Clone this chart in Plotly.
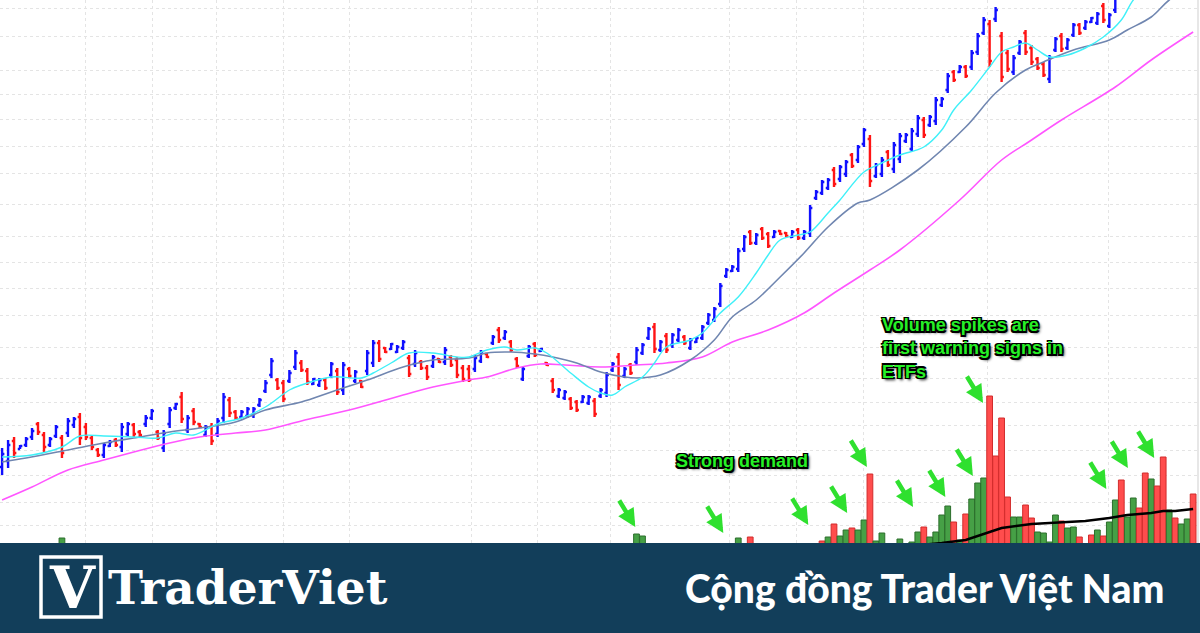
"""
ETF daily bar chart with moving averages and volume spikes (TraderViet banner)
"""

import plotly.graph_objects as go

# ---- price bars, one per session ----
bar_high = [
    18.5, 19.3, 19.6, 18.8, 19.6, 20.5, 21.1, 20.1, 19.6, 20.8,
    19.8, 21.5, 21.6, 22.0, 21.0, 19.8, 18.5, 19.0, 19.3, 19.5,
    21.0, 21.1, 21.0, 20.3, 21.8, 22.4, 20.3, 20.3, 22.6, 23.0,
    24.1, 21.8, 22.5, 21.0, 20.8, 21.0, 21.5, 24.0, 23.6, 22.3,
    22.3, 22.6, 22.6, 23.5, 25.3, 27.5, 25.5, 25.3, 26.3, 28.3,
    27.3, 26.5, 25.5, 25.5, 25.5, 27.1, 26.5, 27.1, 26.6, 26.3,
    25.3, 28.3, 29.3, 29.3, 28.6, 29.0, 28.8, 29.3, 27.8, 28.3,
    27.3, 26.8, 27.8, 27.5, 28.6, 27.8, 27.6, 26.8, 26.8, 27.8,
    28.3, 28.0, 29.8, 30.6, 30.3, 29.3, 27.6, 26.6, 28.8, 29.1,
    28.5, 27.1, 25.5, 24.5, 24.3, 23.6, 23.3, 23.8, 23.8, 23.5,
    24.5, 26.1, 27.1, 28.0, 26.6, 27.0, 28.6, 29.0, 30.6, 31.0,
    29.3, 30.0, 30.0, 30.5, 29.8, 29.5, 29.6, 30.8, 32.0, 32.6,
    35.0, 36.5, 36.8, 38.5, 39.8, 40.3, 40.0, 40.6, 40.1, 40.3,
    40.3, 40.1, 40.3, 40.5, 40.3, 42.8, 44.3, 45.3, 45.5, 46.6,
    46.8, 47.3, 48.0, 48.8, 50.5, 49.8, 47.0, 47.6, 48.3, 49.1,
    50.0, 50.0, 50.5, 51.8, 51.6, 51.8, 53.6, 53.6, 56.0, 56.3,
    56.8, 56.8, 58.3, 60.0, 61.6, 61.3, 62.6, 60.1, 58.3, 57.8,
    59.3, 60.3, 58.8, 57.6, 57.1, 57.8, 59.6, 60.0, 59.5, 61.0,
    61.0, 61.3, 61.6, 62.1, 63.0, 62.0, 64.1, 65.5, 66.0, 66.8,
    67.9, 68.2, 68.8, 69.7, 70.1, 69.0, 69.6, 70.0, 70.8, 71.0,
]
bar_low = [
    15.8, 16.5, 17.5, 18.4, 18.6, 19.3, 19.8, 18.1, 18.6, 19.5,
    17.5, 19.6, 20.5, 18.8, 19.3, 18.3, 17.6, 17.5, 18.6, 18.6,
    18.1, 19.6, 19.6, 19.6, 20.6, 21.3, 19.3, 18.1, 20.5, 22.3,
    21.0, 20.0, 20.8, 20.5, 19.6, 18.8, 19.6, 21.0, 21.6, 21.3,
    21.5, 21.5, 21.5, 22.6, 24.0, 25.5, 24.3, 23.1, 25.0, 26.3,
    26.1, 24.8, 24.8, 24.6, 24.3, 25.5, 23.8, 23.8, 25.5, 25.0,
    24.5, 25.8, 26.6, 27.1, 28.0, 28.3, 28.0, 28.3, 25.6, 26.6,
    26.3, 25.3, 26.5, 27.0, 26.8, 26.6, 25.5, 25.1, 25.1, 26.1,
    27.0, 27.5, 28.8, 29.0, 29.3, 28.1, 26.5, 25.2, 27.5, 27.6,
    28.1, 26.7, 24.0, 23.5, 23.3, 22.3, 22.1, 23.0, 22.8, 21.6,
    23.5, 23.6, 26.1, 24.3, 25.5, 25.8, 26.8, 27.8, 29.3, 28.0,
    28.1, 28.0, 28.5, 29.1, 28.8, 28.3, 29.0, 29.3, 30.8, 31.1,
    32.6, 35.5, 36.1, 36.1, 38.1, 38.8, 38.8, 39.3, 38.5, 39.5,
    39.8, 39.6, 39.5, 39.3, 39.3, 39.6, 43.3, 43.8, 44.3, 44.6,
    45.1, 45.6, 46.5, 47.0, 48.6, 44.6, 45.5, 45.6, 46.6, 46.0,
    47.0, 49.0, 48.1, 49.6, 49.5, 50.6, 50.8, 52.6, 54.0, 55.1,
    56.0, 55.5, 56.3, 57.8, 59.8, 56.6, 61.1, 55.1, 56.1, 55.8,
    57.8, 57.8, 56.8, 56.3, 55.6, 55.0, 58.1, 58.1, 58.3, 59.6,
    59.8, 60.3, 61.0, 60.8, 61.0, 60.5, 62.0, 63.6, 64.3, 64.8,
    66.2, 66.0, 66.9, 68.0, 67.8, 66.5, 66.8, 67.6, 68.2, 68.5,
]
bar_open = [
    16.6, 17.2, 19.2, 18.4, 18.8, 19.6, 20.9, 19.8, 18.8, 19.7,
    19.5, 20.0, 20.8, 21.6, 20.6, 19.5, 18.3, 17.8, 18.7, 19.3,
    18.6, 19.9, 20.8, 20.1, 20.9, 21.5, 20.1, 18.5, 20.9, 22.5,
    23.6, 20.3, 22.2, 20.9, 19.8, 20.6, 19.9, 21.5, 23.3, 22.1,
    21.6, 21.7, 21.8, 22.8, 24.2, 25.8, 25.3, 25.0, 25.2, 26.6,
    27.0, 26.2, 24.9, 24.8, 25.3, 25.8, 26.2, 24.3, 26.4, 25.2,
    25.2, 26.2, 27.0, 29.0, 28.5, 28.4, 28.1, 28.5, 27.5, 26.9,
    27.1, 26.5, 26.7, 27.4, 27.1, 27.6, 27.3, 26.5, 26.4, 26.4,
    27.2, 27.9, 29.0, 30.3, 29.5, 29.1, 27.4, 25.4, 27.7, 28.9,
    28.2, 27.0, 25.2, 23.7, 23.5, 23.4, 23.1, 23.1, 23.0, 23.2,
    23.7, 24.0, 26.3, 27.6, 25.7, 26.8, 27.1, 28.0, 29.5, 30.6,
    28.3, 29.7, 28.8, 29.3, 29.6, 28.5, 29.1, 29.5, 31.0, 31.3,
    32.9, 35.7, 36.2, 36.4, 38.4, 40.1, 39.0, 40.4, 39.9, 39.6,
    40.2, 40.0, 39.6, 40.3, 39.5, 40.0, 43.5, 44.0, 44.5, 46.3,
    45.4, 45.9, 47.8, 47.3, 48.9, 49.4, 45.7, 45.9, 48.1, 46.4,
    47.4, 49.2, 48.4, 49.9, 51.3, 50.8, 51.2, 52.8, 54.3, 56.1,
    56.1, 56.6, 56.6, 58.1, 60.0, 60.9, 61.4, 59.7, 58.0, 56.1,
    58.0, 60.0, 58.5, 57.4, 56.9, 55.4, 58.3, 59.7, 58.5, 59.8,
    60.8, 60.5, 61.1, 61.0, 62.7, 60.7, 62.3, 63.9, 65.8, 65.0,
    66.4, 67.9, 67.1, 68.2, 69.8, 68.6, 67.1, 69.7, 68.5, 70.7,
]
bar_close = [
    17.9, 18.8, 18.0, 18.7, 19.4, 20.2, 20.1, 18.6, 19.4, 20.6,
    18.0, 21.2, 21.4, 19.5, 19.6, 18.6, 17.8, 18.8, 19.1, 18.8,
    20.6, 20.9, 19.9, 19.8, 21.5, 22.2, 19.5, 20.0, 22.3, 22.9,
    21.4, 21.5, 21.1, 20.6, 20.6, 19.2, 21.2, 23.6, 22.0, 21.5,
    22.1, 22.4, 22.4, 23.3, 25.0, 27.2, 24.5, 23.4, 26.0, 28.0,
    26.3, 25.1, 25.4, 25.3, 24.5, 26.9, 24.1, 26.8, 25.7, 26.1,
    24.6, 28.0, 29.0, 27.4, 28.1, 28.9, 28.6, 29.1, 25.9, 28.0,
    26.5, 25.6, 27.6, 27.1, 28.3, 26.8, 25.8, 25.4, 25.3, 27.5,
    28.1, 27.6, 29.6, 29.3, 30.1, 28.3, 26.7, 26.4, 28.6, 27.8,
    28.4, 26.8, 24.3, 24.3, 24.1, 22.5, 22.3, 23.6, 23.6, 21.9,
    24.3, 25.8, 26.9, 24.8, 26.4, 26.0, 28.3, 28.8, 30.4, 28.4,
    29.1, 28.3, 29.8, 30.3, 29.0, 29.3, 29.5, 30.6, 31.8, 32.4,
    34.7, 36.3, 36.6, 38.2, 39.6, 39.0, 39.8, 39.5, 38.7, 40.1,
    39.9, 39.7, 40.1, 39.5, 40.1, 42.5, 44.1, 45.1, 45.3, 44.9,
    46.6, 47.1, 46.7, 48.6, 50.3, 45.2, 46.8, 47.3, 46.8, 48.8,
    49.7, 49.8, 50.2, 51.5, 49.8, 51.6, 53.3, 53.4, 55.7, 55.3,
    56.6, 55.7, 58.0, 59.7, 61.3, 57.2, 62.3, 55.6, 56.4, 57.5,
    59.1, 58.1, 57.1, 56.5, 55.8, 57.5, 59.4, 58.4, 59.3, 60.8,
    60.0, 61.1, 61.5, 61.9, 61.3, 61.8, 63.8, 65.2, 64.6, 66.5,
    67.6, 66.4, 68.5, 69.5, 68.1, 66.9, 69.2, 67.9, 70.4, 68.9,
]

# ---- volume (millions) and direction, 1 = up day ----
volume = [
    5.2, 6.1, 4.8, 5.5, 6.3, 4.9, 5.8, 7.2, 5.1, 6.0,
    9.5, 6.8, 5.4, 7.5, 6.2, 5.0, 6.6, 5.7, 4.6, 5.3,
    7.1, 5.9, 6.4, 4.7, 5.6, 6.9, 5.2, 7.4, 6.0, 5.1,
    8.1, 6.3, 5.5, 4.9, 5.8, 7.0, 6.1, 7.8, 6.5, 5.4,
    5.0, 4.8, 5.6, 6.2, 7.3, 8.2, 6.7, 7.0, 6.1, 7.6,
    6.4, 5.9, 5.2, 4.6, 5.5, 6.8, 7.4, 8.0, 5.8, 5.1,
    5.6, 7.2, 7.9, 6.6, 5.0, 4.8, 5.3, 5.9, 7.1, 6.2,
    5.4, 6.0, 5.7, 4.5, 6.3, 5.8, 6.9, 7.3, 6.5, 6.0,
    5.5, 4.9, 6.7, 7.0, 5.6, 6.1, 7.2, 7.7, 6.4, 6.8,
    5.0, 5.9, 8.3, 6.6, 5.7, 7.0, 6.8, 5.9, 6.3, 8.5,
    7.1, 8.0, 7.4, 8.6, 6.9, 7.3, 9.9, 9.7, 8.1, 8.4,
    6.8, 7.5, 6.2, 7.0, 6.5, 5.9, 5.4, 6.6, 7.8, 8.2,
    8.7, 8.3, 7.6, 9.5, 7.9, 9.6, 7.2, 6.8, 7.5, 6.3,
    5.8, 5.2, 6.0, 6.9, 6.4, 8.8, 8.5, 9.2, 9.6, 10.9,
    9.7, 10.3, 10.5, 10.3, 11.3, 15.9, 9.2, 10.0, 8.2, 8.6,
    9.4, 8.7, 9.1, 10.1, 10.6, 9.6, 10.1, 11.8, 12.7, 11.1,
    9.3, 11.9, 13.4, 15.0, 15.5, 23.7, 17.7, 21.5, 13.6, 11.6,
    11.6, 12.8, 11.5, 10.1, 10.0, 9.1, 11.8, 11.2, 10.5, 10.6,
    9.6, 8.8, 9.8, 10.3, 9.7, 11.1, 13.3, 15.3, 11.6, 13.5,
    12.5, 16.0, 15.4, 14.7, 17.6, 12.3, 11.5, 10.9, 11.4, 13.9,
]
vol_up = [
    1, 1, 0, 1, 1, 1, 0, 0, 1, 1,
    1, 1, 1, 0, 0, 0, 0, 1, 1, 0,
    1, 1, 0, 0, 1, 1, 0, 1, 1, 1,
    0, 1, 0, 0, 1, 0, 1, 1, 0, 0,
    1, 1, 1, 1, 1, 1, 0, 0, 1, 1,
    0, 0, 1, 1, 0, 1, 0, 1, 0, 1,
    0, 1, 1, 0, 0, 1, 1, 1, 0, 1,
    0, 0, 1, 0, 1, 0, 0, 0, 0, 1,
    1, 0, 1, 0, 1, 0, 0, 1, 1, 0,
    1, 0, 0, 1, 1, 0, 0, 1, 1, 0,
    1, 1, 0, 1, 0, 1, 1, 1, 1, 0,
    1, 0, 1, 1, 0, 1, 1, 1, 1, 1,
    1, 1, 1, 1, 1, 0, 1, 0, 0, 1,
    0, 0, 1, 0, 1, 1, 1, 0, 1, 0,
    1, 1, 0, 1, 1, 0, 1, 1, 0, 1,
    1, 1, 1, 1, 0, 1, 1, 1, 1, 0,
    1, 0, 1, 1, 1, 0, 0, 0, 0, 1,
    1, 0, 0, 1, 1, 1, 1, 0, 1, 1,
    0, 1, 0, 1, 0, 1, 1, 0, 1, 1,
    0, 0, 1, 0, 0, 1, 0, 1, 1, 0,
]
sessions = list(range(len(bar_close)))

# ---- moving averages (session, level) ----
ma_fast_idx = [0, 5, 10, 13, 17, 22, 26, 29, 32, 36, 40, 44, 48, 50, 55, 60, 62, 65, 68, 72,
               76, 78, 81, 84, 86, 89, 91, 95, 98, 100, 102, 104, 107, 109, 111, 115, 117, 120,
               123, 126, 128, 130, 133, 135, 138, 140, 144, 147, 150, 154, 157, 159, 162, 165,
               167, 169, 171, 173, 175, 178, 181, 184, 187, 189, 193, 199]
ma_fast = [17.6, 17.8, 18.6, 19.7, 19.7, 19.6, 19.5, 20.0, 19.8, 20.9, 21.5, 22.6, 24.3, 24.8,
           25.6, 25.5, 26.0, 27.0, 28.0, 28.0, 27.6, 27.6, 28.3, 28.6, 28.3, 28.5, 28.0, 26.0,
           24.6, 24.0, 23.8, 24.6, 25.6, 27.0, 28.6, 29.3, 30.0, 32.0, 33.6, 36.0, 37.8, 39.3,
           39.8, 40.1, 42.0, 43.3, 46.1, 47.0, 47.8, 48.6, 50.3, 52.3, 54.3, 56.6, 58.1, 58.6,
           59.0, 58.3, 57.6, 57.8, 58.5, 59.6, 61.3, 63.3, 65.8, 68.8]

ma_mid_idx = [0, 4, 11, 17, 22, 28, 33, 39, 44, 50, 55, 61, 67, 72, 78, 81, 85, 89, 92, 96,
              100, 104, 106, 110, 115, 119, 122, 126, 130, 134, 138, 143, 145, 153, 161, 166,
              171, 174, 179, 185, 188, 192, 195, 199]
ma_mid = [17.1, 17.5, 18.3, 19.0, 19.5, 20.1, 20.5, 21.1, 22.3, 23.1, 24.1, 25.3, 26.6, 27.3,
          27.5, 28.0, 28.1, 27.9, 27.6, 27.0, 26.1, 25.6, 25.5, 25.8, 27.3, 29.3, 31.6, 33.3,
          35.6, 38.0, 40.6, 43.0, 43.3, 46.3, 50.6, 54.0, 56.3, 57.1, 58.3, 59.3, 60.3, 61.6,
          63.3, 64.8]

ma_slow_idx = [0, 5, 11, 17, 22, 28, 33, 39, 44, 50, 58, 67, 72, 78, 81, 86, 90, 94, 100, 106,
               111, 117, 122, 128, 134, 139, 145, 150, 160, 167, 172, 177, 186, 192, 199]
ma_slow = [13.3, 14.6, 16.3, 17.3, 18.1, 19.0, 19.6, 20.0, 20.3, 21.2, 22.3, 23.8, 24.6, 25.3,
           25.6, 26.5, 26.9, 26.8, 26.6, 26.8, 27.0, 27.6, 29.1, 30.3, 32.0, 34.0, 36.3, 38.3,
           43.3, 47.3, 49.3, 51.3, 54.6, 57.3, 60.1]

vol_ma_idx = [100, 110, 120, 130, 140, 150, 157, 161, 165, 167, 172, 176, 181, 185, 188, 192, 194, 196, 199]
vol_ma = [7.0, 7.3, 7.6, 7.8, 8.2, 8.6, 9.0, 9.3, 10.1, 10.5, 10.9, 11.0, 11.2, 11.5, 11.8, 12.0, 12.2, 12.2, 12.4]

# grid levels of the original chart (no labels shown)
grid_price_levels = [62.5, 59.7, 56.3, 53.9, 51.4, 48.7, 46.0, 42.9, 39.7, 37.1,
                     34.5, 31.8, 28.6, 25.5, 23.1, 20.8, 18.3, 15.8, 13.1, 10.8]
grid_sessions = [14, 25.1, 35.9, 47.1, 58.1, 78.4, 89.4, 101.6, 121.5, 132.7, 143.9, 164.7, 184.8]

# volume spikes marked with arrows: (session, volume level at arrow tip)
arrow_session = [105.8, 120.5, 134.7, 141.2, 144.5, 152.2, 157.6, 162.2, 163.9, 184.5, 188.1, 192.5]
arrow_level = [10.6, 10.0, 10.8, 12.0, 16.6, 12.6, 13.6, 15.7, 23.0, 14.4, 16.5, 17.5]

GREEN_TXT = "#26f026"
OUTLINE = ("-1.5px -1.5px 0 #000, 1.5px -1.5px 0 #000, -1.5px 1.5px 0 #000, 1.5px 1.5px 0 #000, "
           "0 1.5px 0 #000, 0 -1.5px 0 #000, 2px 2px 3px #000")
BANNER = "#123e5a"

fig = go.Figure()

# volume bars
fig.add_trace(go.Bar(
    x=sessions, y=volume, yaxis="y2",
    marker=dict(
        color=["#46a046" if u else "#ff4d4d" for u in vol_up],
        line=dict(color=["#2c6e2c" if u else "#d22c2c" for u in vol_up], width=1),
    ),
    showlegend=False,
))
fig.add_trace(go.Scatter(
    x=vol_ma_idx, y=vol_ma, yaxis="y2", mode="lines",
    line=dict(color="black", width=2.5), showlegend=False,
))

# moving averages
fig.add_trace(go.Scatter(x=ma_slow_idx, y=ma_slow, mode="lines",
                         line=dict(color="#ff55ff", width=1.6, shape="spline"), showlegend=False))
fig.add_trace(go.Scatter(x=ma_mid_idx, y=ma_mid, mode="lines",
                         line=dict(color="#7086b0", width=1.6, shape="spline"), showlegend=False))
fig.add_trace(go.Scatter(x=ma_fast_idx, y=ma_fast, mode="lines",
                         line=dict(color="#3ff0f8", width=1.4, shape="spline"), showlegend=False))

# price bars
fig.add_trace(go.Ohlc(
    x=sessions, open=bar_open, high=bar_high, low=bar_low, close=bar_close,
    increasing=dict(line=dict(color="#1010ff", width=2.4)),
    decreasing=dict(line=dict(color="#ff1414", width=2.4)),
    tickwidth=0.38, showlegend=False,
))

annotations = []
for s, lv in zip(arrow_session, arrow_level):
    annotations.append(dict(
        x=s, y=lv, xref="x", yref="y2", text="", showarrow=True,
        ax=-17, ay=-28, arrowhead=2, arrowsize=0.8, arrowwidth=4.5,
        arrowcolor="#2fe02f",
    ))

annotations += [
    dict(x=742 / 1200, y=(633 - 461) / 633, xref="paper", yref="paper",
         text="Strong demand", showarrow=False, xanchor="center", yanchor="middle",
         font=dict(family="Liberation Sans, Arial", size=18, color=GREEN_TXT,
                   weight="bold", shadow=OUTLINE)),
    dict(x=880 / 1200, y=(633 - 313) / 633, xref="paper", yref="paper",
         text="Volume spikes are<br>first warning signs in<br>ETFs", showarrow=False,
         xanchor="left", yanchor="top", align="left",
         font=dict(family="Liberation Sans, Arial", size=18, color=GREEN_TXT,
                   weight="bold", shadow=OUTLINE)),
    # banner texts
    dict(x=72 / 1200, y=(633 - 588) / 633, xref="paper", yref="paper",
         text="V", showarrow=False, xanchor="center", yanchor="middle",
         font=dict(family="DejaVu Serif", size=58, color="white", weight="bold")),
    dict(x=106 / 1200, y=(633 - 587) / 633, xref="paper", yref="paper",
         text="TraderViet", showarrow=False, xanchor="left", yanchor="middle",
         font=dict(family="DejaVu Serif", size=47, color="white", weight="bold")),
    dict(x=1166 / 1200, y=(633 - 588) / 633, xref="paper", yref="paper",
         text="Cộng đồng Trader Việt Nam", showarrow=False, xanchor="right", yanchor="middle",
         font=dict(family="Lato", size=39, color="white", weight=900)),
]

shapes = [
    # right frame line of the chart
    dict(type="line", xref="paper", yref="paper", x0=1198 / 1200, x1=1198 / 1200,
         y0=(633 - 543) / 633, y1=1, line=dict(color="#cfcfcf", width=1)),
    # banner
    dict(type="rect", xref="paper", yref="paper", x0=0, x1=1, y0=0, y1=90 / 633,
         fillcolor=BANNER, line=dict(width=0), layer="above"),
    # logo box
    dict(type="rect", xref="paper", yref="paper", x0=41 / 1200, x1=101 / 1200,
         y0=(633 - 617) / 633, y1=(633 - 557) / 633,
         line=dict(color="white", width=3.5), layer="above"),
]

fig.update_layout(
    width=1200, height=633,
    margin=dict(l=0, r=0, t=0, b=0),
    paper_bgcolor="white", plot_bgcolor="white",
    showlegend=False, bargap=0.04,
    xaxis=dict(range=[-0.35, 200.15], tickvals=grid_sessions, showticklabels=False,
               showgrid=True, gridcolor="#e4e4e4", griddash="dot", gridwidth=1,
               zeroline=False, showline=False, rangeslider=dict(visible=False), ticks=""),
    yaxis=dict(range=[0, 63.3], tickvals=grid_price_levels, showticklabels=False,
               showgrid=True, gridcolor="#e4e4e4", griddash="dot", gridwidth=1,
               zeroline=False, showline=False, ticks=""),
    yaxis2=dict(range=[0, 63.3], overlaying="y", showgrid=False, showticklabels=False,
                zeroline=False, showline=False, ticks=""),
    annotations=annotations,
    shapes=shapes,
)

fig.write_html("out.html", config={"displayModeBar": False},
               post_script="document.body.style.margin='0';")
